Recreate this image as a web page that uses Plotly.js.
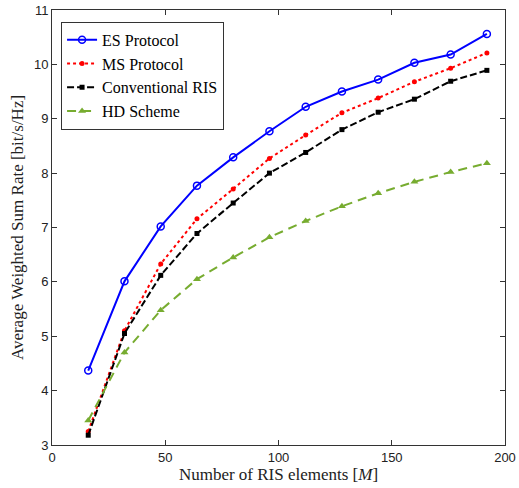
<!DOCTYPE html>
<html><head><meta charset="utf-8">
<script src="https://cdn.plot.ly/plotly-3.0.1.min.js"></script>
<style>body{margin:0;background:#fff}</style>
</head><body>
<div id="chart" style="width:519px;height:488px"></div>
<script>
const xM = [16, 32, 48, 64, 80, 96, 112, 128, 144, 160, 176, 192];
const esRate = [4.37, 6.01, 7.02, 7.77, 8.29, 8.77, 9.22, 9.50, 9.72, 10.03, 10.18, 10.56];
const msRate = [3.25, 5.10, 6.33, 7.16, 7.71, 8.27, 8.70, 9.11, 9.38, 9.68, 9.93, 10.21];
const convRate = [3.18, 5.05, 6.12, 6.89, 7.45, 8.00, 8.38, 8.80, 9.12, 9.36, 9.69, 9.89];
const hdRate = [3.45, 4.70, 5.48, 6.05, 6.45, 6.82, 7.12, 7.39, 7.63, 7.84, 8.02, 8.18];
const names = ["ES Protocol", "MS Protocol", "Conventional RIS", "HD Scheme"];

const traces = [
  {x: xM, y: esRate, name: names[0], mode: 'lines+markers',
   line: {color: '#0000ff', width: 2, dash: 'solid'},
   marker: {symbol: 'circle-open', size: 7, color: '#0000ff', line: {width: 1.5, color: '#0000ff'}}},
  {x: xM, y: msRate, name: names[1], mode: 'lines+markers',
   line: {color: '#ff0000', width: 2, dash: 'dot'},
   marker: {symbol: 'circle', size: 5, color: '#ff0000'}},
  {x: xM, y: convRate, name: names[2], mode: 'lines+markers',
   line: {color: '#000000', width: 2, dash: '7px,3px'},
   marker: {symbol: 'square', size: 5, color: '#000000'}},
  {x: xM, y: hdRate, name: names[3], mode: 'lines+markers',
   line: {color: '#77ac30', width: 2, dash: '9px,6px'},
   marker: {symbol: 'triangle-up', size: 7, color: '#77ac30'}}
];

const layout = {
  width: 519, height: 488,
  margin: {l: 52, r: 14, t: 10, b: 43},
  paper_bgcolor: '#fff', plot_bgcolor: '#fff',
  showlegend: true,
  legend: {x: 0.02, y: 0.973, xanchor: 'left', yanchor: 'top',
    bgcolor: '#fff', bordercolor: '#333', borderwidth: 1,
    font: {family: 'Liberation Serif, Times New Roman, serif', size: 16, color: '#000'},
    tracegroupgap: 0, itemwidth: 30},
  xaxis: {range: [0, 200], tickvals: [0, 50, 100, 150, 200],
    ticks: 'inside', ticklen: 5, tickcolor: '#333', mirror: 'ticks',
    showline: true, linecolor: '#333', linewidth: 1, showgrid: false, zeroline: false,
    tickfont: {family: 'Liberation Sans, Arial, sans-serif', size: 13, color: '#222'},
    title: {text: 'Number of RIS elements [<i>M</i>]', standoff: 3,
      font: {family: 'Liberation Serif, Times New Roman, serif', size: 17, color: '#222'}}},
  yaxis: {range: [3, 11], tickvals: [3,4,5,6,7,8,9,10,11],
    ticks: 'inside', ticklen: 5, tickcolor: '#333', mirror: 'ticks',
    showline: true, linecolor: '#333', linewidth: 1, showgrid: false, zeroline: false,
    tickfont: {family: 'Liberation Sans, Arial, sans-serif', size: 13, color: '#222'},
    title: {text: 'Average Weighted Sum Rate [bit/s/Hz]', standoff: 5,
      font: {family: 'Liberation Serif, Times New Roman, serif', size: 17, color: '#222'}}}
};
Plotly.newPlot('chart', traces, layout, {displayModeBar: false});
</script>
</body></html>
